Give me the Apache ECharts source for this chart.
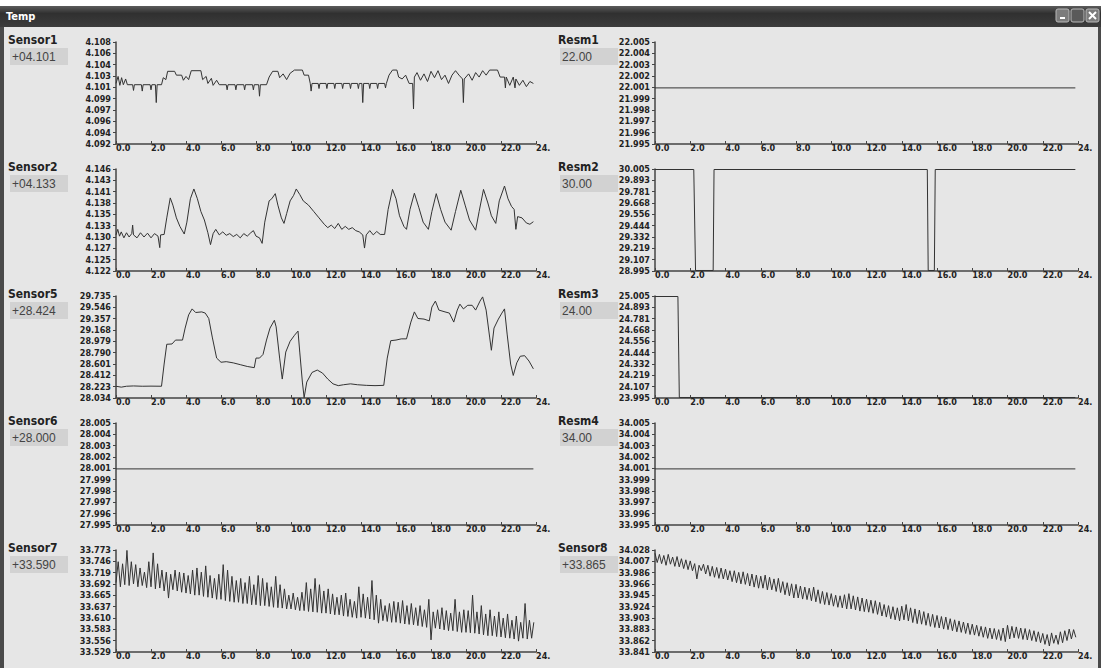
<!DOCTYPE html>
<html><head><meta charset="utf-8">
<script src="https://cdn.jsdelivr.net/npm/echarts@6/dist/echarts.min.js"></script>
<style>html,body{margin:0;padding:0;background:#fff}#c{width:1103px;height:668px}</style>
</head><body><div id="c"></div>
<script>
// ---------- names / readouts ----------
const panelNames = ['Sensor1','Resm1','Sensor2','Resm2','Sensor5','Resm3','Sensor6','Resm4','Sensor7','Sensor8'];
const panelReadouts = ['+04.101','22.00','+04.133','30.00','+28.424','24.00','+28.000','34.00','+33.590','+33.865'];

// ---------- axis ranges / tick labels ----------
const yMins = [4.092, 21.995, 4.122, 28.995, 28.034, 23.995, 27.995, 33.995, 33.529, 33.841];
const yMaxs = [4.108, 22.005, 4.146, 30.005, 29.735, 25.005, 28.005, 34.005, 33.773, 34.028];
const yTickLabels = [
  ['4.092','4.094','4.096','4.097','4.099','4.101','4.103','4.104','4.106','4.108'],
  ['21.995','21.996','21.997','21.998','21.999','22.001','22.002','22.003','22.004','22.005'],
  ['4.122','4.125','4.127','4.130','4.133','4.135','4.138','4.141','4.143','4.146'],
  ['28.995','29.107','29.219','29.332','29.444','29.556','29.668','29.781','29.893','30.005'],
  ['28.034','28.223','28.412','28.601','28.790','28.979','29.168','29.357','29.546','29.735'],
  ['23.995','24.107','24.219','24.332','24.444','24.556','24.668','24.781','24.893','25.005'],
  ['27.995','27.996','27.997','27.998','27.999','28.001','28.002','28.003','28.004','28.005'],
  ['33.995','33.996','33.997','33.998','33.999','34.001','34.002','34.003','34.004','34.005'],
  ['33.529','33.556','33.583','33.610','33.637','33.665','33.692','33.719','33.746','33.773'],
  ['33.841','33.862','33.883','33.903','33.924','33.945','33.966','33.986','34.007','34.028']
];
const xTickValues = [0,2,4,6,8,10,12,14,16,18,20,22,24];
const xTickLabels = ['0.0','2.0','4.0','6.0','8.0','10.0','12.0','14.0','16.0','18.0','20.0','22.0','24.'];

// ---------- series data ([hour, value]) ----------
const sensor1 = [
[0,4.1015],[0.12,4.1026],[0.22,4.1012],[0.32,4.1024],[0.42,4.1013],[0.55,4.1022],[0.65,4.1013],
[0.95,4.1013],[1.0,4.1004],[1.05,4.1013],[1.45,4.1013],[1.5,4.1003],[1.55,4.1013],[1.95,4.1013],[2.0,4.1005],[2.05,4.1013],
[2.25,4.1013],[2.3,4.0985],[2.35,4.1013],[2.6,4.1013],[2.7,4.1024],[2.85,4.1021],[2.95,4.1034],[3.35,4.1034],[3.45,4.1028],
[3.75,4.1028],[3.85,4.102],[4.0,4.1026],[4.15,4.1021],[4.3,4.1035],[4.85,4.1035],[4.95,4.1021],[5.15,4.1026],[5.25,4.1015],
[5.45,4.1023],[5.55,4.1012],[5.75,4.102],[5.9,4.1013],
[6.3,4.1013],[6.35,4.1005],[6.4,4.1013],[6.8,4.1013],[6.85,4.1005],[6.9,4.1013],[7.3,4.1013],[7.35,4.1005],[7.4,4.1013],
[7.8,4.1013],[7.85,4.1005],[7.9,4.1013],[8.15,4.1013],[8.2,4.0995],[8.25,4.1013],[8.6,4.1013],[8.75,4.1025],[8.95,4.1034],
[9.25,4.1034],[9.35,4.1024],[9.55,4.103],[9.75,4.1021],[9.95,4.1031],[10.2,4.1036],[10.65,4.1036],[10.75,4.1028],[11.0,4.1028],
[11.1,4.1015],[11.15,4.1003],[11.2,4.1015],[11.55,4.1015],[11.6,4.1007],[11.65,4.1015],[12.0,4.1015],[12.05,4.1007],[12.1,4.1015],
[12.45,4.1015],[12.5,4.1007],[12.55,4.1015],[12.9,4.1015],[12.95,4.1007],[13.0,4.1015],[13.35,4.1015],[13.4,4.1007],[13.45,4.1015],
[13.8,4.1015],[13.85,4.1007],[13.9,4.1015],[14.05,4.1015],[14.1,4.0985],[14.15,4.1015],[14.45,4.1015],[14.5,4.1007],[14.55,4.1015],
[14.9,4.1015],[14.95,4.1007],[15.0,4.1015],[15.35,4.1015],[15.4,4.1008],[15.45,4.1015],
[15.6,4.1028],[15.8,4.1036],[16.05,4.1036],[16.15,4.1025],[16.35,4.1022],[16.55,4.1028],[16.75,4.1015],[16.95,4.1015],[17.0,4.0975],[17.05,4.1025],
[17.2,4.1032],[17.4,4.102],[17.6,4.103],[17.8,4.1018],[18.0,4.1034],[18.2,4.1024],[18.4,4.1035],[18.6,4.1021],[18.8,4.1028],[19.0,4.1015],
[19.2,4.1028],[19.4,4.1035],[19.6,4.1028],[19.8,4.1022],[19.85,4.0985],[19.9,4.1022],[20.15,4.103],[20.35,4.102],[20.55,4.1032],[20.75,4.1025],
[20.95,4.1035],[21.15,4.1028],[21.35,4.1036],[21.8,4.1036],[21.95,4.1025],[22.2,4.1025],[22.25,4.1008],[22.3,4.1025],[22.5,4.1012],[22.7,4.1025],
[22.8,4.1008],[22.85,4.1022],[23.05,4.1012],[23.25,4.102],[23.45,4.101],[23.65,4.1018],[23.85,4.1015]
];
const resm1 = [[0,22.0005],[23.85,22.0005]];
const sensor2 = [
[0,4.1305],[0.1,4.1318],[0.2,4.1302],[0.3,4.1312],[0.45,4.1298],[0.6,4.131],[0.75,4.13],[0.9,4.1308],[0.95,4.1328],[1.0,4.1305],
[1.2,4.1298],[1.4,4.131],[1.6,4.13],[1.8,4.1309],[2.0,4.1298],[2.2,4.1308],[2.4,4.1302],[2.5,4.1275],[2.55,4.1305],[2.75,4.1306],
[2.9,4.1345],[3.1,4.1392],[3.25,4.1375],[3.45,4.1345],[3.65,4.1325],[3.9,4.1307],[4.05,4.1335],[4.25,4.139],[4.45,4.1413],[4.65,4.139],
[4.85,4.136],[5.05,4.134],[5.25,4.131],[5.4,4.1282],[5.55,4.1308],[5.7,4.1318],[5.9,4.1305],[6.1,4.1312],[6.3,4.1304],[6.5,4.1308],
[6.7,4.1301],[6.9,4.1306],[7.1,4.1298],[7.3,4.1308],[7.5,4.1302],[7.7,4.131],[7.85,4.1315],[8.0,4.1302],[8.2,4.1298],[8.35,4.1285],
[8.5,4.1335],[8.75,4.1385],[8.9,4.139],[9.1,4.1402],[9.25,4.1375],[9.45,4.1345],[9.6,4.1332],[9.75,4.1355],[9.95,4.1385],[10.15,4.1398],
[10.3,4.1413],[10.5,4.14],[10.7,4.1385],[11.0,4.1375],[11.3,4.136],[11.6,4.1345],[11.9,4.133],[12.1,4.1322],[12.3,4.1328],[12.5,4.132],
[12.7,4.1332],[12.9,4.1318],[13.1,4.1325],[13.3,4.1318],[13.5,4.1322],[13.7,4.1315],[13.9,4.1312],[14.1,4.1305],[14.2,4.1274],[14.3,4.1305],
[14.5,4.1315],[14.7,4.1305],[14.9,4.1313],[15.1,4.1306],[15.35,4.1306],
[15.55,4.1365],[15.8,4.1412],[16.0,4.139],[16.2,4.135],[16.45,4.1325],[16.6,4.1318],[16.8,4.1365],[17.05,4.1403],[17.3,4.137],[17.55,4.1335],
[17.85,4.1318],[18.05,4.136],[18.3,4.1402],[18.55,4.1365],[18.8,4.1335],[19.15,4.1316],[19.4,4.136],[19.7,4.141],[19.95,4.1375],[20.2,4.134],
[20.55,4.1316],[20.75,4.136],[21.0,4.1412],[21.25,4.138],[21.45,4.135],[21.7,4.1332],[21.9,4.1385],[22.2,4.142],[22.4,4.139],[22.6,4.1372],
[22.75,4.1365],[22.85,4.1318],[22.95,4.1348],[23.2,4.1345],[23.45,4.1333],[23.65,4.133],[23.85,4.1336]
];
const resm2 = [[0,30.0],[2.2,30.0],[2.3,29.0],[3.3,29.0],[3.35,30.0],[15.45,30.0],[15.5,29.0],[15.85,29.0],[15.9,30.0],[23.85,30.0]];
const sensor5 = [
[0,28.23],[0.3,28.215],[0.6,28.23],[1.0,28.235],[1.5,28.23],[2.0,28.232],[2.6,28.23],[2.75,28.6],[2.9,28.93],[3.2,28.935],
[3.4,29.0],[3.8,29.0],[3.95,29.2],[4.15,29.42],[4.35,29.52],[4.55,29.46],[4.9,29.47],[5.1,29.45],[5.3,29.36],[5.5,29.05],
[5.75,28.7],[6.0,28.63],[6.3,28.64],[6.7,28.62],[7.1,28.59],[7.5,28.56],[7.9,28.54],[8.0,28.7],[8.2,28.7],[8.4,28.76],
[8.6,29.0],[8.8,29.2],[9.05,29.33],[9.15,29.22],[9.35,28.7],[9.5,28.35],[9.7,28.8],[9.95,28.98],[10.2,29.08],[10.4,29.15],
[10.5,28.8],[10.65,28.3],[10.75,28.04],[10.9,28.3],[11.2,28.46],[11.5,28.5],[11.8,28.45],[12.1,28.35],[12.4,28.27],[12.7,28.24],
[13.0,28.255],[13.4,28.27],[13.8,28.255],[14.3,28.245],[14.8,28.24],[15.3,28.245],[15.5,28.7],[15.7,28.99],[16.0,29.0],[16.3,29.02],
[16.6,29.02],[16.85,29.3],[17.05,29.47],[17.25,29.36],[17.6,29.35],[17.9,29.32],[18.05,29.55],[18.25,29.65],[18.45,29.5],[18.8,29.47],
[19.05,29.45],[19.3,29.3],[19.5,29.5],[19.65,29.6],[19.85,29.52],[20.1,29.58],[20.35,29.58],[20.55,29.5],[20.8,29.65],[20.95,29.72],
[21.15,29.5],[21.35,29.05],[21.45,28.83],[21.6,29.2],[21.85,29.35],[22.05,29.45],[22.2,29.52],[22.35,29.1],[22.55,28.6],[22.7,28.41],
[22.9,28.62],[23.1,28.73],[23.35,28.74],[23.6,28.65],[23.85,28.52]
];
const resm3 = [[0,25.0],[1.3,25.0],[1.38,24.0],[23.85,24.0]];
const sensor6 = [[0,28.0005],[23.85,28.0005]];
const resm4 = [[0,34.0005],[23.85,34.0005]];
// Sensor7 / Sensor8 sampled every SAMPLE_STEP hours from 0 h
const SAMPLE_STEP = 0.125;
const sensor7 = [
33.695,33.745,33.685,33.74,33.69,33.772,33.688,33.745,33.692,33.738,33.685,33.73,33.688,33.72,33.683,33.745,
33.685,33.766,33.68,33.74,33.682,33.725,33.675,33.72,33.658,33.715,33.678,33.725,33.675,33.72,33.672,33.718,
33.67,33.712,33.668,33.725,33.665,33.73,33.665,33.72,33.662,33.735,33.66,33.712,33.658,33.705,33.655,33.715,
33.655,33.738,33.652,33.725,33.65,33.71,33.648,33.7,33.648,33.705,33.645,33.695,33.645,33.71,33.642,33.69,
33.642,33.712,33.64,33.705,33.64,33.695,33.638,33.685,33.636,33.71,33.635,33.69,33.634,33.68,33.632,33.665,
33.632,33.67,33.63,33.66,33.628,33.672,33.628,33.695,33.626,33.68,33.625,33.705,33.624,33.69,33.622,33.675,
33.622,33.68,33.62,33.668,33.618,33.66,33.618,33.665,33.615,33.67,33.614,33.655,33.612,33.65,33.61,33.685,
33.612,33.668,33.61,33.66,33.608,33.7,33.606,33.665,33.598,33.655,33.604,33.64,33.602,33.645,33.6,33.65,
33.6,33.648,33.598,33.652,33.596,33.64,33.595,33.645,33.594,33.635,33.592,33.64,33.59,33.63,33.588,33.655,
33.558,33.625,33.586,33.63,33.584,33.635,33.582,33.628,33.58,33.622,33.58,33.655,33.578,33.625,33.576,33.63,
33.576,33.628,33.575,33.665,33.574,33.625,33.572,33.64,33.57,33.62,33.568,33.63,33.568,33.615,33.566,33.625,
33.565,33.61,33.563,33.62,33.562,33.605,33.56,33.615,33.555,33.6,33.562,33.645,33.56,33.605,33.562,33.6
];
const sensor8 = [
34.022,34.005,34.02,34.003,34.018,34.0,34.02,34.002,34.015,33.998,34.016,33.997,34.012,33.994,34.01,33.992,
34.008,33.99,34.003,33.975,34.0,33.99,34.002,33.984,34.0,33.98,33.998,33.978,33.996,33.976,33.995,33.975,
33.993,33.973,33.99,33.97,33.99,33.968,33.987,33.966,33.988,33.965,33.985,33.962,33.984,33.96,33.982,33.958,
33.98,33.958,33.982,33.955,33.978,33.955,33.975,33.952,33.976,33.95,33.97,33.946,33.968,33.944,33.966,33.94,
33.965,33.94,33.962,33.938,33.96,33.937,33.958,33.935,33.96,33.933,33.955,33.93,33.952,33.928,33.95,33.927,
33.948,33.925,33.945,33.923,33.944,33.922,33.946,33.92,33.948,33.92,33.944,33.918,33.942,33.916,33.94,33.915,
33.938,33.914,33.936,33.912,33.935,33.91,33.932,33.907,33.928,33.905,33.926,33.902,33.924,33.9,33.922,33.898,
33.925,33.9,33.928,33.898,33.922,33.895,33.92,33.893,33.918,33.892,33.915,33.89,33.912,33.888,33.91,33.886,
33.908,33.885,33.906,33.883,33.905,33.882,33.902,33.88,33.9,33.878,33.898,33.877,33.896,33.875,33.894,33.873,
33.892,33.872,33.89,33.87,33.888,33.868,33.887,33.866,33.885,33.865,33.884,33.864,33.882,33.862,33.885,33.86,
33.89,33.865,33.888,33.867,33.887,33.866,33.885,33.864,33.884,33.863,33.882,33.862,33.88,33.86,33.878,33.858,
33.875,33.855,33.873,33.852,33.876,33.857,33.872,33.855,33.878,33.858,33.88,33.862,33.883,33.865,33.882,33.868
];

function sampled(vals){ return vals.map((v,i)=>[i*SAMPLE_STEP, v]); }
const seriesData = [sensor1, resm1, sensor2, resm2, sensor5, resm3, sensor6, resm4, sampled(sensor7), sampled(sensor8)];

// ---------- layout ----------
const TICK_FONT = "'DejaVu Sans Condensed','Liberation Sans Narrow',sans-serif";
const chart = echarts.init(document.getElementById('c'), null, {renderer:'svg', width:1103, height:668});
const grids=[], xAxes=[], yAxes=[], series=[], graphics=[];

// window chrome
graphics.push({type:'rect', shape:{x:0,y:0,width:1103,height:7}, style:{fill:'#ffffff'}, silent:true});
graphics.push({type:'rect', shape:{x:0,y:6,width:1103,height:21}, silent:true,
  style:{fill:new echarts.graphic.LinearGradient(0,0,0,1,[{offset:0,color:'#5c5c5c'},{offset:0.35,color:'#303030'},{offset:1,color:'#3c3c3c'}])}});
graphics.push({type:'text', x:6, y:16, silent:true, style:{text:'Temp', fill:'#ffffff', font:"bold 11px 'DejaVu Sans Condensed',sans-serif", align:'left', verticalAlign:'middle'}});
[1056,1071,1086].forEach((bx,k)=>{
  graphics.push({type:'rect', shape:{x:bx,y:9,width:13,height:13,r:2}, silent:true, style:{fill:k===1?'#5a5a5a':'#7c7c7c', stroke:'#b8b8b8', lineWidth:1}});
});
graphics.push({type:'line', shape:{x1:1060,y1:18,x2:1065,y2:18}, silent:true, style:{stroke:'#fff', lineWidth:2}});
graphics.push({type:'line', shape:{x1:1089,y1:12,x2:1096,y2:19}, silent:true, style:{stroke:'#fff', lineWidth:2}});
graphics.push({type:'line', shape:{x1:1096,y1:12,x2:1089,y2:19}, silent:true, style:{stroke:'#fff', lineWidth:2}});
graphics.push({type:'rect', shape:{x:0,y:27,width:4,height:641}, silent:true, style:{fill:'#4a4a4a'}});
graphics.push({type:'rect', shape:{x:1098,y:27,width:3,height:641}, silent:true, style:{fill:'#4a4a4a'}});
graphics.push({type:'rect', shape:{x:1101,y:0,width:2,height:668}, silent:true, style:{fill:'#ffffff'}});

for (let i=0;i<10;i++){
  const col=i%2, row=Math.floor(i/2);
  const left = col?655:116, width = col?423:420;
  const top = 42 + 127*row, height = 102;
  grids.push({left, top, width, height, containLabel:false});
  const mn=yMins[i], mx=yMaxs[i], step=(mx-mn)/9;
  const labels = yTickLabels[i];
  const yVals = labels.map((_,k)=>mn+k*step);
  xAxes.push({type:'value', gridIndex:i, min:0, max:24, interval:2,
    axisLine:{show:true, onZero:false, lineStyle:{color:'#444', width:1.5}},
    axisTick:{show:true, inside:true, length:3, customValues:xTickValues, lineStyle:{color:'#444'}},
    axisLabel:{show:true, customValues:xTickValues, margin:-1, align:'left', color:'#222', fontSize:9, fontWeight:'bold', fontFamily:TICK_FONT,
      formatter:(v)=>xTickLabels[Math.round(v/2)]},
    splitLine:{show:false}});
  yAxes.push({type:'value', gridIndex:i, min:mn, max:mx,
    axisLine:{show:true, onZero:false, lineStyle:{color:'#444', width:1.5}},
    axisTick:{show:true, inside:false, length:3, customValues:yVals, lineStyle:{color:'#444'}},
    axisLabel:{show:true, customValues:yVals, margin:5, color:'#222', fontSize:9, fontWeight:'bold', fontFamily:TICK_FONT,
      formatter:(v)=>labels[Math.round((v-mn)/step)]},
    splitLine:{show:false}});
  series.push({type:'line', name:panelNames[i], xAxisIndex:i, yAxisIndex:i, data:seriesData[i],
    showSymbol:false, symbol:'none', silent:true, animation:false,
    lineStyle:{color:'#333', width:1}});
  const lx = col?558:8, ly = 40 + 127*row;
  graphics.push({type:'text', x:lx, y:ly, silent:true, style:{text:panelNames[i], fill:'#222', font:"bold 12px 'DejaVu Sans Condensed',sans-serif", align:'left', verticalAlign:'middle'}});
  graphics.push({type:'rect', shape:{x:lx+2, y:ly+8, width:58, height:17}, silent:true, style:{fill:'#d2d2d2'}});
  graphics.push({type:'text', x:lx+4, y:ly+17, silent:true, style:{text:panelReadouts[i], fill:'#444', font:"12px 'Liberation Sans',sans-serif", align:'left', verticalAlign:'middle'}});
}

chart.setOption({
  backgroundColor:'#e6e6e6',
  animation:false,
  grid:grids, xAxis:xAxes, yAxis:yAxes, series,
  graphic:{elements:graphics}
});
</script>
</body></html>
